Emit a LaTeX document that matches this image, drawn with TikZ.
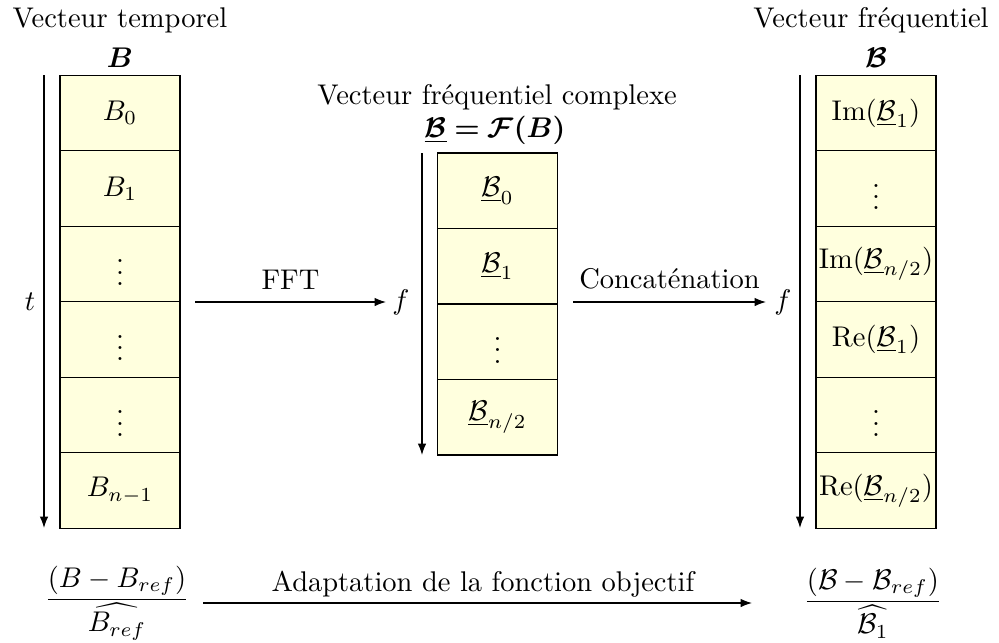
\documentclass[tikz,border=0pt]{standalone}
\usepackage{amsmath,bm}
\usetikzlibrary{arrows.meta}
\definecolor{cellyellow}{RGB}{255,255,222}
\tikzset{
  cell/.style={draw, fill=cellyellow, minimum width=42.1pt, minimum height=26.5pt, inner sep=0pt, line width=0.5pt},
  axis/.style={-{Latex[length=4pt,width=3pt]}, line width=0.45pt},
  flow/.style={-{Latex[length=4pt,width=3pt]}, line width=0.45pt},
  lbl/.style={inner sep=0pt}
}
\begin{document}
\begin{tikzpicture}[x=0.351pt, y=-0.351pt]
\useasboundingbox (0,0) rectangle (999,643);
% left column
\node[lbl] (tl1) at (120,20) {Vecteur temporel};
\node[lbl] (tl2) at (120,58) {$\bm{B}$};
\node[cell] (a0) at (120,113) {$B_0$};
\node[cell] (a1) at (120,188.5) {$B_1$};
\node[cell] (a2) at (120,264) {$\vdots$};
\node[cell] (a3) at (120,339.5) {$\vdots$};
\node[cell] (a4) at (120,415) {$\vdots$};
\node[cell] (a5) at (120,490.5) {$B_{n-1}$};
\coordinate (at) at (44,75);
\coordinate (ab) at (44,528);
\draw[axis] (at) -- (ab);
\node[lbl] (t) at (30,302) {$t$};
% middle column
\node[lbl] (ml1) at (497,97) {Vecteur fréquentiel complexe};
\node[lbl] (ml2) at (495,130) {$\bm{\underline{\mathcal{B}} = \mathcal{F}(B)}$};
\node[cell] (b0) at (497.5,190.75) {$\underline{\mathcal{B}}_0$};
\node[cell] (b1) at (497.5,266.25) {$\underline{\mathcal{B}}_1$};
\node[cell] (b2) at (497.5,341.75) {$\vdots$};
\node[cell] (b3) at (497.5,417.25) {$\underline{\mathcal{B}}_{n/2}$};
\coordinate (bt) at (422,153);
\coordinate (bb) at (422,455);
\draw[axis] (bt) -- (bb);
\node[lbl] (f1) at (401,302) {$f$};
% right column
\node[lbl] (rl1) at (871,20) {Vecteur fréquentiel};
\node[lbl] (rl2) at (876,58) {$\bm{\mathcal{B}}$};
\node[cell] (c0) at (876,113) {$\mathrm{Im}(\underline{\mathcal{B}}_1)$};
\node[cell] (c1) at (876,188.5) {$\vdots$};
\node[cell] (c2) at (876,264) {$\mathrm{Im}(\underline{\mathcal{B}}_{n/2})$};
\node[cell] (c3) at (876,339.5) {$\mathrm{Re}(\underline{\mathcal{B}}_1)$};
\node[cell] (c4) at (876,415) {$\vdots$};
\node[cell] (c5) at (876,490.5) {$\mathrm{Re}(\underline{\mathcal{B}}_{n/2})$};
\coordinate (ct) at (800,75);
\coordinate (cb) at (800,528);
\draw[axis] (ct) -- (cb);
\node[lbl] (f2) at (783,302) {$f$};
% FFT and concatenation arrows
\coordinate (fs) at (195,302);
\coordinate (fe) at (386,302);
\draw[flow] (fs) -- (fe) node[midway, above=1pt] (fftl) {FFT};
\coordinate (cs) at (573,302);
\coordinate (ce) at (766,302);
\draw[flow] (cs) -- (ce) node[midway, above=1pt] (catl) {Concaténation};
% bottom
\node[lbl] (lf) at (117,603) {$\dfrac{(B-B_{ref})}{\widehat{B_{ref}}}$};
\node[lbl] (rf) at (873,603) {$\dfrac{(\mathcal{B}-\mathcal{B}_{ref})}{\widehat{\mathcal{B}_1}}$};
\coordinate (ls) at (203,603);
\coordinate (le) at (752,603);
\draw[flow] (ls) -- (le);
\node[lbl] (adl) at (483,584) {Adaptation de la fonction objectif};
\end{tikzpicture}
\end{document}
